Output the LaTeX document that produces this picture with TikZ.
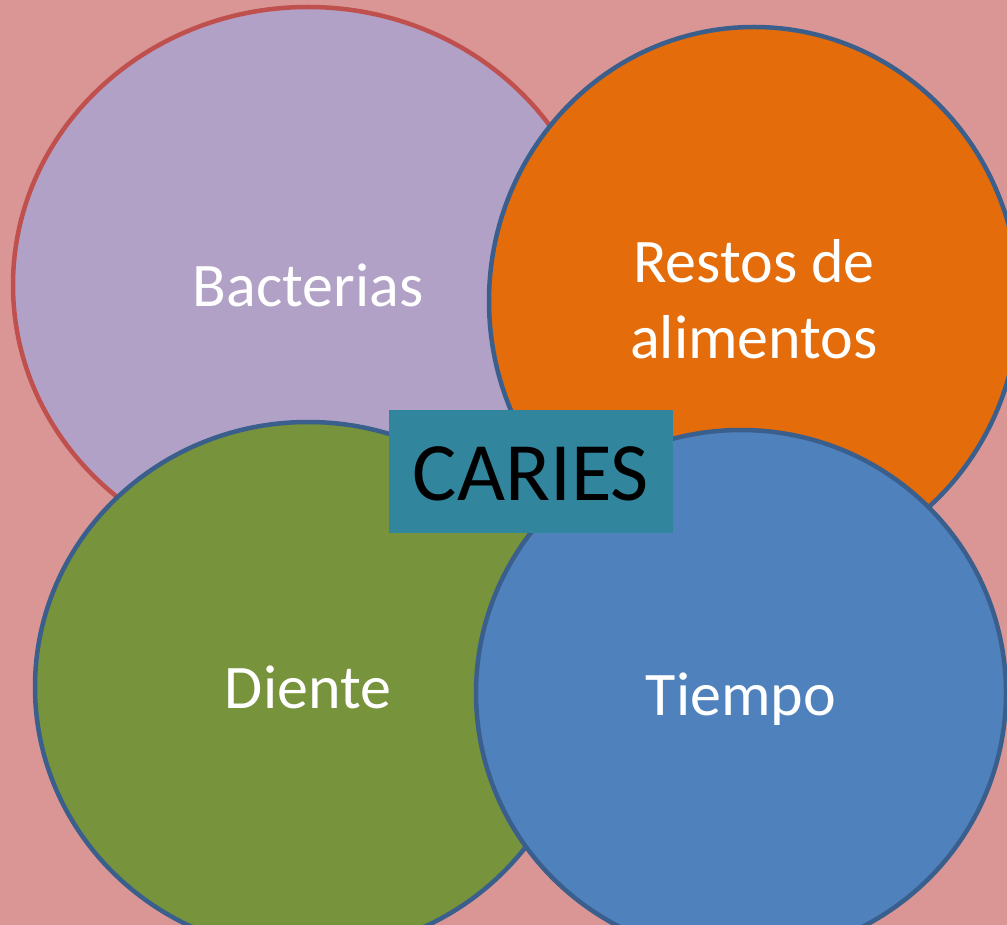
\documentclass[tikz,border=0pt]{standalone}
\usepackage{fontspec}
\setmainfont{Carlito}
\usetikzlibrary{shapes.geometric}
\definecolor{bgpink}{HTML}{D99694}
\definecolor{bacfill}{HTML}{B2A1C7}
\definecolor{bacline}{HTML}{C0504D}
\definecolor{blueline}{HTML}{3A5F8D}
\definecolor{orangefill}{HTML}{E46C0A}
\definecolor{greenfill}{HTML}{77933C}
\definecolor{bluefill}{HTML}{4F81BD}
\definecolor{tealfill}{HTML}{31859C}
\tikzset{
  blob/.style={ellipse, inner sep=0pt, line width=4.5pt, draw=blueline},
  lbl/.style={anchor=base, text=white, font=\fontsize{62}{76}\selectfont, align=center},
  cariesbox/.style={rectangle, fill=tealfill, inner sep=0pt, minimum width=284pt, minimum height=123pt},
}
\begin{document}
\begin{tikzpicture}[x=1pt,y=-1pt]
\useasboundingbox (0,0) rectangle (1007,925);
\clip (0,0) rectangle (1007,925);
\fill[bgpink] (0,0) rectangle (1007,925);
\node[blob, draw=bacline, fill=bacfill, minimum width=590pt, minimum height=556pt] (bac) at (308,285) {};
\node[blob, fill=orangefill, minimum width=530pt, minimum height=548pt] (res) at (754,301) {};
\node[blob, fill=greenfill, minimum width=546pt, minimum height=530pt] (die) at (308,687) {};
\node[blob, fill=bluefill, minimum width=530pt, minimum height=526pt] (tie) at (741,693) {};
\node[cariesbox] (car) at (531,471.5) {};
\node[anchor=base, text=black, font=\fontsize{83}{90}\selectfont] (cart) at (531,500) {CARIES};
\node[lbl] (bact) at (308,307) {Bacterias};
\node[lbl] (rest1) at (754,283) {Restos de};
\node[lbl] (rest2) at (754,359) {alimentos};
\node[lbl] (diet) at (308,708) {Diente};
\node[lbl] (tiet) at (741,715) {Tiempo};
\end{tikzpicture}
\end{document}
